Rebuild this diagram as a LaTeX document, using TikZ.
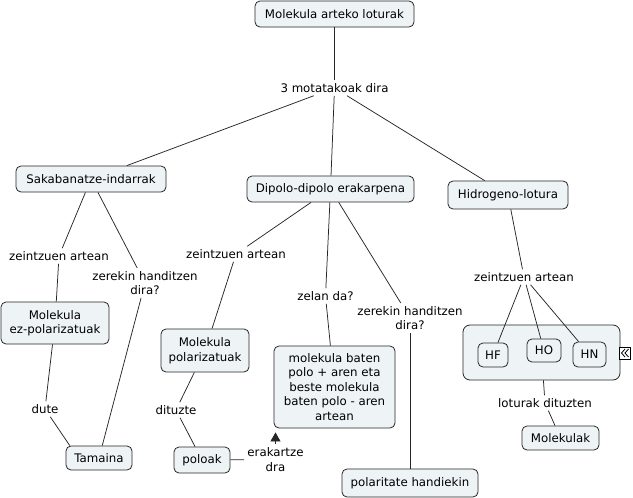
\documentclass[tikz,border=0pt]{standalone}
\usepackage{fontspec}
\setmainfont{DejaVu Sans}
\usetikzlibrary{arrows.meta,calc}
\definecolor{boxfill}{RGB}{238,244,246}
\begin{document}
\begin{tikzpicture}[x=1pt,y=-1pt,
  font=\fontsize{11.8}{14.5}\selectfont,
  concept/.style={draw=black!85, line width=0.8pt, rounded corners=5pt, fill=boxfill, inner sep=2pt, align=center},
  sz/.style 2 args={minimum width=#1pt, minimum height=#2pt},
  lbl/.style={inner sep=3pt, align=center},
  link/.style={line width=0.75pt, draw=black!85}]
\useasboundingbox (0,0) rectangle (633,498);

% concepts
\node[concept, sz={159}{26}] (top) at (334.5,14) {Molekula arteko loturak};
\node[concept, sz={150}{26}] (sak) at (91,179) {Sakabanatze-indarrak};
\node[concept, sz={167}{26}] (dip) at (330.5,189) {Dipolo-dipolo erakarpena};
\node[concept, sz={120}{28}] (hid) at (508,195) {Hidrogeno-lotura};
\node[concept, sz={108}{42}] (ezpol) at (55,323) {Molekula\\ez-polarizatuak};
\node[concept, sz={66}{24}] (tam) at (99,458) {Tamaina};
\node[concept, sz={88}{43}] (pol) at (205,350.5) {Molekula\\polarizatuak};
\node[concept, sz={56}{26}] (poloak) at (202,460) {poloak};
\node[concept, sz={121}{82}] (mbaten) at (334.5,387) {molekula baten\\polo + aren eta\\beste molekula\\baten polo - aren\\artean};
\node[concept, sz={136}{28}] (polar) at (410,483) {polaritate handiekin};
\node[concept, sz={157}{55}, rounded corners=7pt] (cont) at (541.5,352.5) {};
\node[concept, sz={30}{24}] (hf) at (493,355) {HF};
\node[concept, sz={34}{23}] (ho) at (544,350.5) {HO};
\node[concept, sz={33}{25}] (hn) at (589.5,354.5) {HN};
\node[concept, sz={77}{24}] (molak) at (560.5,438) {Molekulak};

% icon
\node[draw=black, fill=white, line width=0.7pt, minimum width=11pt, minimum height=12pt, inner sep=0pt] (icon) at (624.5,353) {};
\draw[line width=0.8pt] ($(icon.center)+(0.5,-4)$) -- ++(-3.5,4) -- ++(3.5,4);
\draw[line width=0.8pt] ($(icon.center)+(4,-4)$) -- ++(-3.5,4) -- ++(3.5,4);

% labels
\node[lbl] (l3) at (334.5,88) {3 motatakoak dira};
\node[lbl] (zL) at (59,256) {zeintzuen artean};
\node[lbl] (zerL) at (145,283) {zerekin handitzen\\dira?};
\node[lbl] (dute) at (45,409) {dute};
\node[lbl] (zM) at (236,254) {zeintzuen artean};
\node[lbl] (dituzte) at (176,410) {dituzte};
\node[lbl] (erak) at (275.5,459.5) {erakartze\\dra};
\node[lbl] (zelan) at (325.5,296) {zelan da?};
\node[lbl] (zerM) at (410,318) {zerekin handitzen\\dira?};
\node[lbl] (zR) at (524,277) {zeintzuen artean};
\node[lbl] (lotur) at (545,403) {loturak dituzten};

% links
\draw[link] (top) -- (l3);
\draw[link] (l3) -- (sak);
\draw[link] (l3) -- (dip);
\draw[link] (l3) -- (hid);
\draw[link] (sak) -- (zL);
\draw[link] (sak) -- (zerL);
\draw[link] (zL) -- (ezpol);
\draw[link] (zerL) -- (tam);
\draw[link] (ezpol) -- (dute);
\draw[link] (dute) -- (tam.157);
\draw[link] (dip) -- (zM);
\draw[link] (zM) -- (pol);
\draw[link] (pol) -- (dituzte);
\draw[link] (dituzte) -- (poloak);
\draw[link] (poloak) -- (erak);
\draw[link, -{Triangle[width=10pt,length=9pt]}, shorten >=4pt] (erak.north) -- (erak.north |- mbaten.south);
\draw[link] (dip) -- (zelan);
\draw[link] (zelan) -- (mbaten);
\draw[link] (dip) -- (zerM);
\draw[link] (zerM) -- (polar);
\draw[link] (hid) -- (zR);
\draw[link] (zR) -- (hf);
\draw[link] (zR) -- (ho);
\draw[link] (zR) -- (hn);
\draw[link] (cont) -- (lotur);
\draw[link] (lotur) -- (molak);
\end{tikzpicture}
\end{document}
